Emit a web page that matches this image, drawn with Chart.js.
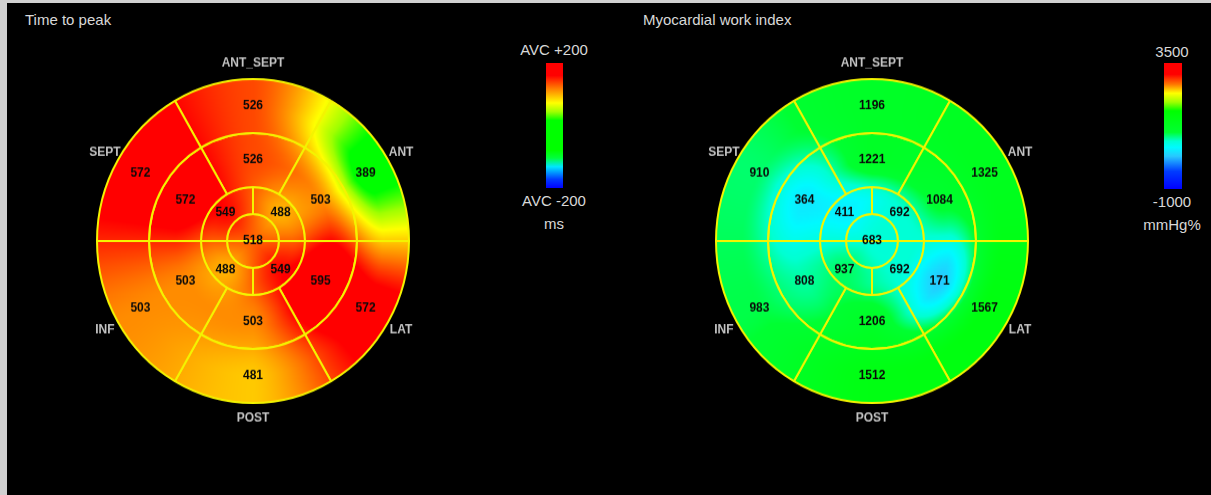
<!DOCTYPE html>
<html lang="en">
<head>
<meta charset="UTF-8">
<title>Bull's eye maps</title>
<style>
    body {
        margin: 0;
        width: 1211px;
        height: 495px;
        overflow: hidden;
        background: #d0d0d0;
        font-family: Arial, "Liberation Sans", sans-serif;
        position: relative;
    }
    .panel { position: absolute; left: 7px; top: 3px; right: 0; bottom: 0; background: #000; }
    .title { position: absolute; top: 11px; color: #d8d8d8; font-size: 15px; white-space: nowrap; }
    .map { position: absolute; width: 400px; height: 400px; transform: scaleY(1.038); }
    .bar { position: absolute; top: 63px; height: 125px; }
    .lbl { position: absolute; width: 100px; text-align: center; color: #d8d8d8; font-size: 15px; line-height: 17px; }
</style>
<script src="https://cdn.jsdelivr.net/npm/chart.js"></script>
</head>
<body>
<div class="panel"></div>
<div class="title" style="left:25px">Time to peak</div>
<div class="title" style="left:643px">Myocardial work index</div>

<canvas id="ttp" class="map" width="400" height="400" style="left:53px;top:41px"></canvas>
<canvas id="mwi" class="map" width="400" height="400" style="left:672px;top:41px"></canvas>

<div id="barTtp" class="bar" style="left:546px;width:17px"></div>
<div class="lbl" id="ttpTop" style="left:504px;top:41px"></div>
<div class="lbl" id="ttpBot" style="left:504px;top:192px"></div>
<div class="lbl" id="ttpUnit" style="left:504px;top:215px"></div>

<div id="barMwi" class="bar" style="left:1164px;width:18px;height:126px"></div>
<div class="lbl" id="mwiTop" style="left:1122px;top:43px"></div>
<div class="lbl" id="mwiBot" style="left:1122px;top:193px"></div>
<div class="lbl" id="mwiUnit" style="left:1122px;top:216px"></div>

<script>
// wall names, clockwise from the top segment
const walls = ['ANT_SEPT', 'ANT', 'LAT', 'POST', 'INF', 'SEPT'];

// time to peak (ms): basal / mid in wall order, apical quadrants UR, LR, LL, UL
const ttpBasal = [526, 389, 572, 481, 503, 572];
const ttpMid = [526, 503, 595, 503, 503, 572];
const ttpApical = [488, 549, 488, 549];
const ttpApex = 518;
const ttpRange = [190, 590];
const ttpTicks = ['AVC +200', 'AVC -200', 'ms'];

// myocardial work index (mmHg%)
const mwiBasal = [1196, 1325, 1567, 1512, 983, 910];
const mwiMid = [1221, 1084, 171, 1206, 808, 364];
const mwiApical = [692, 692, 937, 411];
const mwiApex = 683;
const mwiRange = [-1000, 3500];
const mwiTicks = ['3500', '-1000', 'mmHg%'];

// colour scales, position from bottom of the bar
const ttpStops = [
    [0.00, [0, 0, 255]], [0.07, [0, 60, 255]], [0.17, [0, 230, 255]], [0.24, [0, 255, 60]],
    [0.30, [0, 255, 0]], [0.54, [0, 255, 0]], [0.61, [160, 255, 0]], [0.68, [255, 255, 0]],
    [0.80, [255, 120, 0]], [0.90, [255, 0, 0]], [1.00, [255, 0, 0]]
];
const mwiStops = [
    [0.00, [0, 0, 255]], [0.14, [0, 60, 255]], [0.26, [40, 200, 255]], [0.33, [0, 250, 255]],
    [0.38, [0, 255, 210]], [0.45, [0, 255, 50]], [0.62, [0, 255, 0]], [0.69, [160, 255, 0]],
    [0.76, [255, 255, 0]], [0.83, [255, 120, 0]], [0.91, [255, 0, 0]], [1.00, [255, 0, 0]]
];

const R = 156;

function colorAt(stops, t) {
    t = Math.max(0, Math.min(1, t));
    for (let i = 1; i < stops.length; i++) {
        if (t <= stops[i][0]) {
            const [p0, c0] = stops[i - 1], [p1, c1] = stops[i];
            const f = p1 > p0 ? (t - p0) / (p1 - p0) : 0;
            return c0.map((c, k) => Math.round(c + (c1[k] - c) * f));
        }
    }
    return stops[stops.length - 1][1];
}

function barGradient(stops) {
    return 'linear-gradient(to top, ' + stops.map(s => `rgb(${s[1].join(',')}) ${s[0] * 100}%`).join(', ') + ')';
}

const ease = f => 0.3 * f + 0.7 * f * f * (3 - 2 * f);

// interpolation around a ring between segment centres
function ringInterp(vals, startDeg, th) {
    const n = vals.length, step = 2 * Math.PI / n;
    let u = (th - startDeg * Math.PI / 180) / step - 0.5;
    u = ((u % n) + n) % n;
    const i = Math.floor(u), f = ease(u - i);
    return vals[i] * (1 - f) + vals[(i + 1) % n] * f;
}

function fieldValue(m, r, th) {
    const rs = [0, 0.25, 0.5, 5 / 6];
    const f = [m.apex, ringInterp(m.apical, -90, th), ringInterp(m.mid, -120, th), ringInterp(m.basal, -120, th)];
    if (r >= rs[3]) return f[3];
    const k = r < rs[1] ? 0 : r < rs[2] ? 1 : 2;
    const t = ease((r - rs[k]) / (rs[k + 1] - rs[k]));
    return f[k] * (1 - t) + f[k + 1] * t;
}

function makeMap(id, m) {
    const fieldPlugin = {
        id: 'field',
        afterLayout(chart) {
            const a = chart.chartArea;
            const cx = (a.left + a.right) / 2, cy = (a.top + a.bottom) / 2;
            const w = chart.canvas.width, h = chart.canvas.height;
            const off = document.createElement('canvas');
            off.width = w; off.height = h;
            const octx = off.getContext('2d');
            const img = octx.createImageData(w, h);
            for (let y = 0; y < h; y++) {
                for (let x = 0; x < w; x++) {
                    const dx = x + 0.5 - cx, dy = y + 0.5 - cy;
                    const r = Math.hypot(dx, dy) / R;
                    if (r > 1.05) continue;
                    const v = fieldValue(m, r, Math.atan2(dy, dx));
                    const c = colorAt(m.stops, (v - m.range[0]) / (m.range[1] - m.range[0]));
                    const p = (y * w + x) * 4;
                    img.data[p] = c[0]; img.data[p + 1] = c[1]; img.data[p + 2] = c[2]; img.data[p + 3] = 255;
                }
            }
            octx.putImageData(img, 0, 0);
            chart.$field = chart.ctx.createPattern(off, 'no-repeat');
        }
    };

    const labelPlugin = {
        id: 'segLabels',
        afterDatasetsDraw(chart) {
            const ctx = chart.ctx;
            ctx.save();
            ctx.textAlign = 'center';
            ctx.textBaseline = 'middle';
            ctx.font = 'bold 12px Arial, "Liberation Sans", sans-serif';
            ctx.fillStyle = '#0a0a0a';
            chart.data.datasets.forEach((ds, di) => {
                const meta = chart.getDatasetMeta(di);
                meta.data.forEach((arc, i) => {
                    if (ds.apex) {
                        if (i === 0) ctx.fillText(String(ds.values[0]), arc.x, arc.y);
                        return;
                    }
                    const p = arc.tooltipPosition();
                    ctx.fillText(String(ds.values[i]), p.x, p.y);
                });
            });
            const arc0 = chart.getDatasetMeta(0).data[0];
            ctx.font = 'bold 12px Arial, "Liberation Sans", sans-serif';
            ctx.fillStyle = '#c4c4c4';
            walls.forEach((name, i) => {
                const ang = (-90 + 60 * i) * Math.PI / 180;
                ctx.fillText(name, arc0.x + (R + 15) * Math.cos(ang), arc0.y + (R + 15) * Math.sin(ang));
            });
            ctx.restore();
        }
    };

    return new Chart(document.getElementById(id), {
        type: 'doughnut',
        data: {
            labels: walls,
            datasets: [
                { data: m.basal.map(() => 1), values: m.basal, weight: 2, rotation: -30 },
                { data: m.mid.map(() => 1), values: m.mid, weight: 2, rotation: -30 },
                { data: m.apical.map(() => 1), values: m.apical, weight: 1, rotation: 0 },
                { data: [1, 1], values: [m.apex, m.apex], weight: 1, rotation: -90, apex: true }
            ]
        },
        options: {
            responsive: false,
            animation: false,
            cutout: 0,
            radius: R,
            backgroundColor: c => c.chart.$field || '#000',
            borderColor: '#f4f400',
            borderWidth: 2,
            plugins: { legend: { display: false }, tooltip: { enabled: false } }
        },
        plugins: [fieldPlugin, labelPlugin]
    });
}

makeMap('ttp', { basal: ttpBasal, mid: ttpMid, apical: ttpApical, apex: ttpApex, range: ttpRange, stops: ttpStops });
makeMap('mwi', { basal: mwiBasal, mid: mwiMid, apical: mwiApical, apex: mwiApex, range: mwiRange, stops: mwiStops });

document.getElementById('barTtp').style.background = barGradient(ttpStops);
document.getElementById('barMwi').style.background = barGradient(mwiStops);
document.getElementById('ttpTop').textContent = ttpTicks[0];
document.getElementById('ttpBot').textContent = ttpTicks[1];
document.getElementById('ttpUnit').textContent = ttpTicks[2];
document.getElementById('mwiTop').textContent = mwiTicks[0];
document.getElementById('mwiBot').textContent = mwiTicks[1];
document.getElementById('mwiUnit').textContent = mwiTicks[2];
</script>
</body>
</html>
